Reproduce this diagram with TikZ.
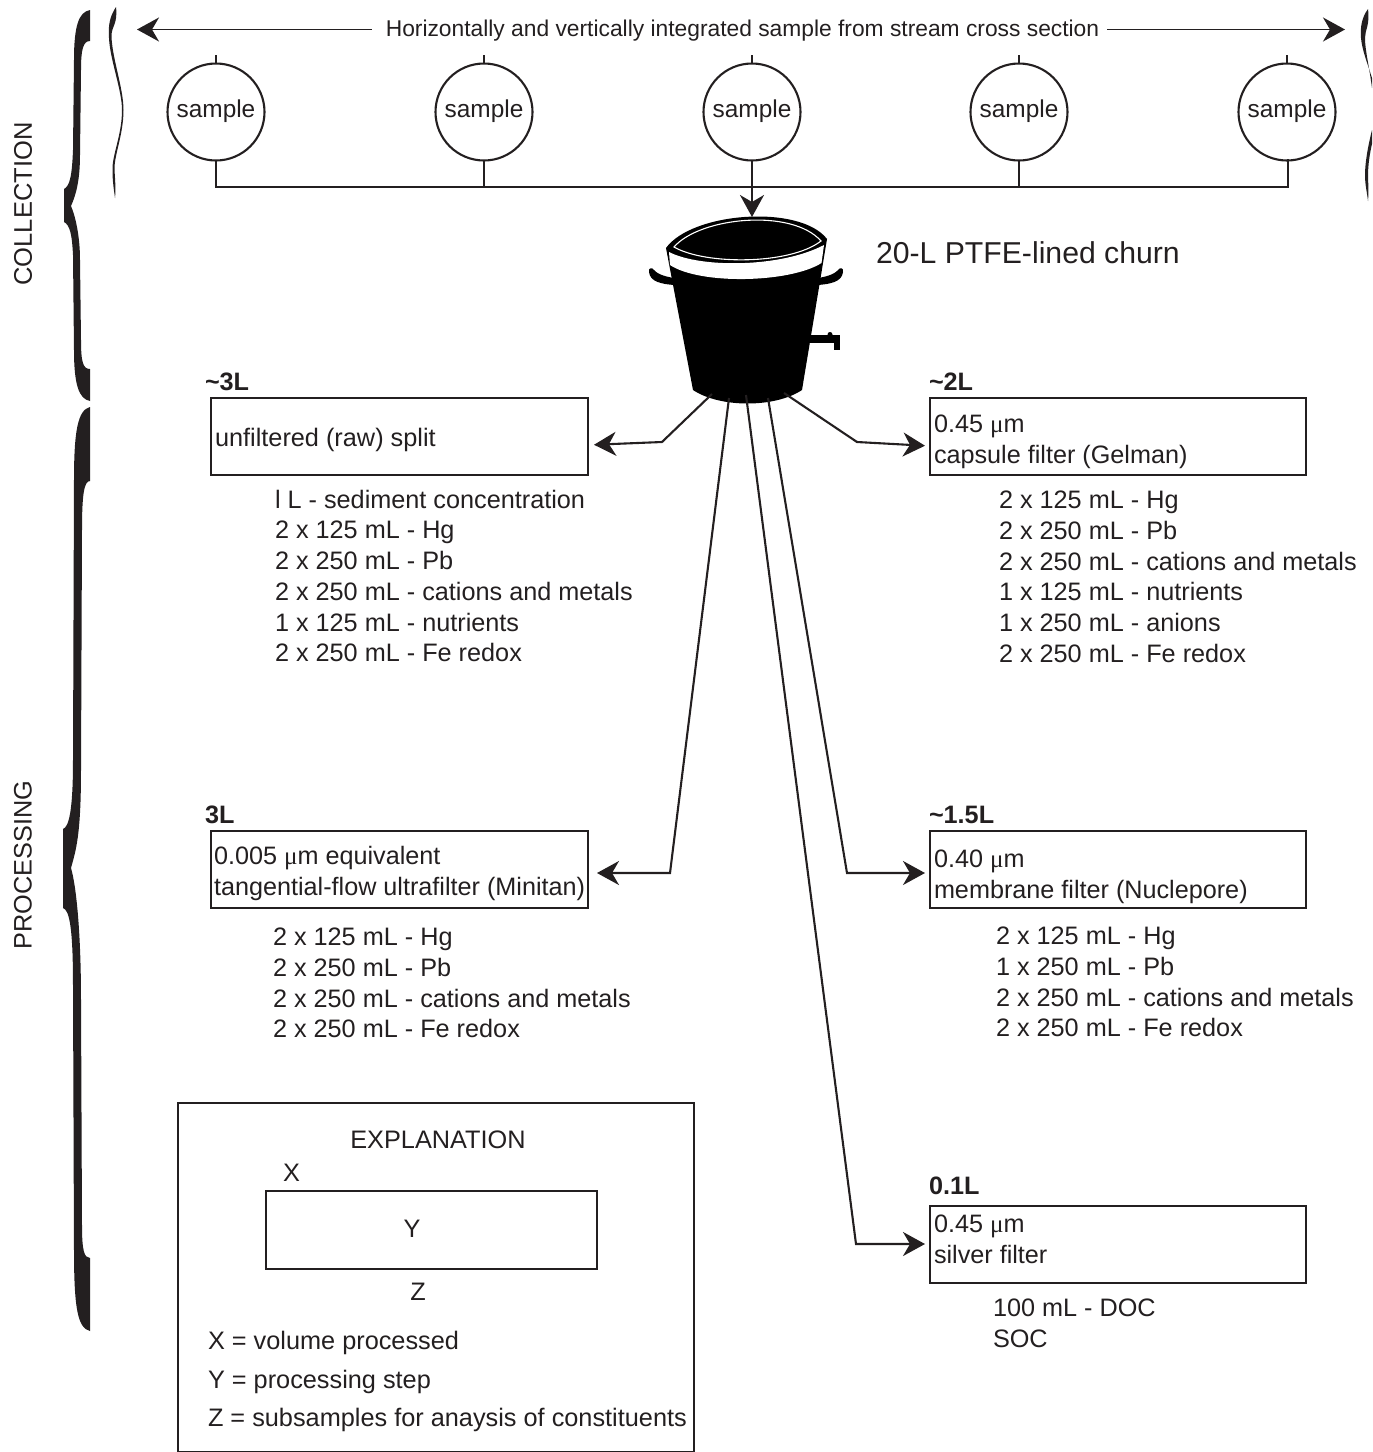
\documentclass[tikz,border=0pt]{standalone}
\usepackage{fontspec}
\setmainfont{Liberation Sans}
\newfontfamily\mufont{Liberation Serif}
\usetikzlibrary{arrows.meta}
\definecolor{ink}{HTML}{231F20}
\newcommand{\um}{{\mufont μ}m}
\tikzset{
  x=0.5pt,y=-0.5pt,
  every node/.style={inner sep=0pt,outer sep=0pt,text=ink},
  conn/.style={draw=ink,line width=1.05pt,line join=miter},
  tip/.style={conn,-{Stealth[length=11pt,width=12pt,inset=3.5pt]}},
  toptip/.style={tip,line width=0.9pt},
  stepbox/.style={draw=ink,line width=1.05pt,fill=none},
  samplenode/.style={circle,draw=ink,line width=1.05pt,minimum size=48.5pt},
  vol/.style={anchor=base west,font=\fontsize{12.6}{14}\selectfont\bfseries},
  label/.style={anchor=base west,font=\fontsize{12.65}{14}\selectfont},
  listing/.style={anchor=north west,align=left,font=\fontsize{12.62}{15.35}\selectfont},
  boxtext/.style={anchor=north west,align=left,font=\fontsize{12.6}{15.5}\selectfont},
  braceblack/.style={fill=ink,draw=none},
}
\begin{document}
\begin{tikzpicture}
\useasboundingbox (0,0) rectangle (1372,1452);
% side labels
\node[rotate=90,font=\fontsize{12.75}{14}\selectfont] (collection) at (23,204) {COLLECTION};
\node[rotate=90,font=\fontsize{12.65}{14}\selectfont] (processing) at (23,865) {PROCESSING};
% collection brace
\fill[braceblack] (90,10) .. controls (79,12) and (74,25) .. (74,60) -- (73,150)
  .. controls (72,175) and (70,186) .. (64,189) -- (64,222)
  .. controls (70,225) and (72,235) .. (73,255) -- (74,350)
  .. controls (74,385) and (79,399) .. (90,401) -- (90,369)
  .. controls (83,369) and (81,362) .. (81,340) -- (80,260)
  .. controls (80,235) and (75,215) .. (71,206)
  .. controls (76,195) and (80,180) .. (80,155) -- (81,70)
  .. controls (81,50) and (83,41) .. (90,41) -- cycle;
% processing brace
\fill[braceblack] (90,407) .. controls (78,410) and (74,430) .. (74,480) -- (73,760)
  .. controls (73,810) and (69,827) .. (63,829) -- (63,908)
  .. controls (69,910) and (73,925) .. (73,985) -- (74,1250)
  .. controls (74,1310) and (78,1328) .. (90,1331) -- (90,1258)
  .. controls (84,1258) and (82,1250) .. (82,1225) -- (81,1000)
  .. controls (81,930) and (76,885) .. (71,868)
  .. controls (76,850) and (81,835) .. (81,770) -- (82,530)
  .. controls (82,495) and (84,481) .. (90,481) -- cycle;
% wavy left
\fill[braceblack] (116,7) .. controls (110,16) and (108,25) .. (109,38)
  .. controls (110,60) and (122,90) .. (122,110)
  .. controls (122,135) and (112,155) .. (112.5,170)
  .. controls (112.5,182) and (114,190) .. (115,198)
  .. controls (116,190) and (115,178) .. (114.5,170)
  .. controls (114,155) and (123.5,135) .. (123.5,110)
  .. controls (123.5,88) and (112,58) .. (111.5,36)
  .. controls (111.5,26) and (118,24) .. (116,7) -- cycle;
% wavy right
\fill[braceblack] (1368,9) .. controls (1362,17) and (1360,27) .. (1361,38)
  .. controls (1362,50) and (1368,65) .. (1372,78) -- (1372,88)
  .. controls (1369,65) and (1365,50) .. (1365,38)
  .. controls (1365,30) and (1370,25) .. (1368,9) -- cycle;
\fill[braceblack] (1372,130) .. controls (1367,150) and (1365,165) .. (1365,175)
  .. controls (1365,185) and (1367,192) .. (1368,201)
  .. controls (1369,190) and (1368,182) .. (1368,175)
  .. controls (1368,165) and (1370,152) .. (1372,144) -- cycle;
% top integrated-sample arrow
\node[font=\fontsize{11.4}{13}\selectfont] (integrated) at (742.5,30.5) {Horizontally and vertically integrated sample from stream cross section};
\coordinate (topL) at (137,29.5);
\coordinate (topR) at (1345,29.5);
\draw[toptip] ([xshift=-7pt]integrated.west |- topL) -- (topL);
\draw[toptip] ([xshift=4pt]integrated.east |- topR) -- (topR);
% samples
\foreach \n/\x in {a/216,b/484,c/752,d/1019,e/1287}{
  \node[samplenode] (s\n) at (\x,112) {};
  \node[font=\fontsize{12.2}{14}\selectfont] (w\n) at (\x,111) {sample};
  \coordinate (stub\n) at (\x,55);
  \draw[conn] (s\n.north) -- (stub\n);
}
\coordinate (busL) at (216,187);
\coordinate (busR) at (1288,187);
\draw[conn,line join=miter] (sa.south) |- (busL) -- (busR) |- (se.south);
\draw[conn] (sb.south) -- (484,187);
\draw[conn] (sd.south) -- (1019,187);
\coordinate (churnTop) at (752,217);
\draw[tip] (sc.south) -- (churnTop);
% churn
\fill[black] (649,272) .. controls (648,268) and (652,267) .. (654,270) .. controls (658,275) and (668,277) .. (674,278) -- (674,285) .. controls (662,284) and (650,282) .. (649,272) -- cycle;
\fill[black] (843,272) .. controls (844,268) and (840,267) .. (838,270) .. controls (834,275) and (824,277) .. (818,278) -- (818,285) .. controls (830,284) and (842,282) .. (843,272) -- cycle;
\fill[black] (810,335) rectangle (840,343);
\fill[black] (834,335) rectangle (840,350);
\fill[black] (830,334.5) circle (2.5);
\fill[black] (666,248) .. controls (692,212) and (800,204) .. (827,239)
  -- (802,390) .. controls (775,408) and (720,408) .. (693,390) -- cycle;
\fill[white] (669,252) .. controls (700,268) and (780,268) .. (824,245)
  -- (821.5,263) .. controls (790,283) and (700,285) .. (670,265) -- cycle;
\draw[white,line width=0.55pt] (674,247) .. controls (700,217) and (792,208) .. (821,241)
   .. controls (790,265) and (705,265) .. (674,247) -- cycle;
\node[anchor=base west,font=\fontsize{15.1}{18}\selectfont] (churnlabel) at (876,263) {20-L PTFE-lined churn};
\coordinate (outA) at (712,394);
\coordinate (outB) at (729,398);
\coordinate (outC) at (746,395);
\coordinate (outD) at (768,398);
\coordinate (outE) at (784,393);
% boxes
\node[stepbox,minimum width=188.5pt,minimum height=38.5pt,anchor=north west] (raw) at (211,398) {};
\node[stepbox,minimum width=188pt,minimum height=38.5pt,anchor=north west] (capsule) at (930,398) {};
\node[stepbox,minimum width=188.5pt,minimum height=38.5pt,anchor=north west] (ultra) at (211,831) {};
\node[stepbox,minimum width=188pt,minimum height=38.5pt,anchor=north west] (membrane) at (930,831) {};
\node[stepbox,minimum width=188pt,minimum height=38.5pt,anchor=north west] (silver) at (930,1206) {};
% connectors
\draw[tip,shorten >=3pt] (outA) -- (662,442) -- (raw.east |- 0,445);
\draw[tip,shorten >=2.5pt] (outE) -- (857,442) -- (capsule.west |- 0,446);
\draw[tip,shorten >=4.5pt] (outB) -- (670,873) -- (ultra.east |- 0,873);
\draw[tip,shorten >=2.5pt] (outD) -- (847,873) -- (membrane.west |- 0,873);
\draw[tip,shorten >=2.5pt] (outC) -- (856,1244) -- (silver.west |- 0,1244);
% volumes
\node[vol] (v1) at (205,390) {\textasciitilde3L};
\node[vol] (v2) at (929,390) {\textasciitilde2L};
\node[vol] (v3) at (205,823) {3L};
\node[vol] (v4) at (929,823) {\textasciitilde1.5L};
\node[vol] (v5) at (929,1194) {0.1L};
% box text
\node[label] (t1) at (215,446) {unfiltered (raw) split};
\node[boxtext] (t2) at (934,415) {0.45 \um\\capsule filter (Gelman)};
\node[boxtext] (t3) at (214,846) {0.005 \um\ equivalent\\tangential-flow ultrafilter (Minitan)};
\node[boxtext] (t4) at (934,849.5) {0.40 \um\\membrane filter (Nuclepore)};
\node[boxtext] (t5) at (934,1215) {0.45 \um\\silver filter};
% lists
\node[listing] (l1) at (275,490) {l L - sediment concentration\\2 x 125 mL - Hg\\2 x 250 mL - Pb\\2 x 250 mL - cations and metals\\1 x 125 mL - nutrients\\2 x 250 mL - Fe redox};
\node[listing] (l2) at (999,491) {2 x 125 mL - Hg\\2 x 250 mL - Pb\\2 x 250 mL - cations and metals\\1 x 125 mL - nutrients\\1 x 250 mL - anions\\2 x 250 mL - Fe redox};
\node[listing] (l3) at (273,928) {2 x 125 mL - Hg\\2 x 250 mL - Pb\\2 x 250 mL - cations and metals\\2 x 250 mL - Fe redox};
\node[listing] (l4) at (996,927) {2 x 125 mL - Hg\\1 x 250 mL - Pb\\2 x 250 mL - cations and metals\\2 x 250 mL - Fe redox};
\node[listing] (l5) at (993,1299) {100 mL - DOC\\SOC};
% explanation
\node[stepbox,minimum width=258pt,minimum height=174.5pt,anchor=north west] (expl) at (178,1103) {};
\node[label,anchor=base] (e0) at (438,1148) {EXPLANATION};
\node[label] (e1) at (283,1181) {X};
\node[stepbox,minimum width=165.5pt,minimum height=39pt,anchor=north west] (ybox) at (266,1191) {};
\node[label,anchor=base] (e2) at (412,1237) {Y};
\node[label,anchor=base] (e3) at (418,1300) {Z};
\node[label] (e4) at (208,1349) {X = volume processed};
\node[label] (e5) at (208,1388) {Y = processing step};
\node[label] (e6) at (208,1426) {Z = subsamples for anaysis of constituents};
\end{tikzpicture}
\end{document}
